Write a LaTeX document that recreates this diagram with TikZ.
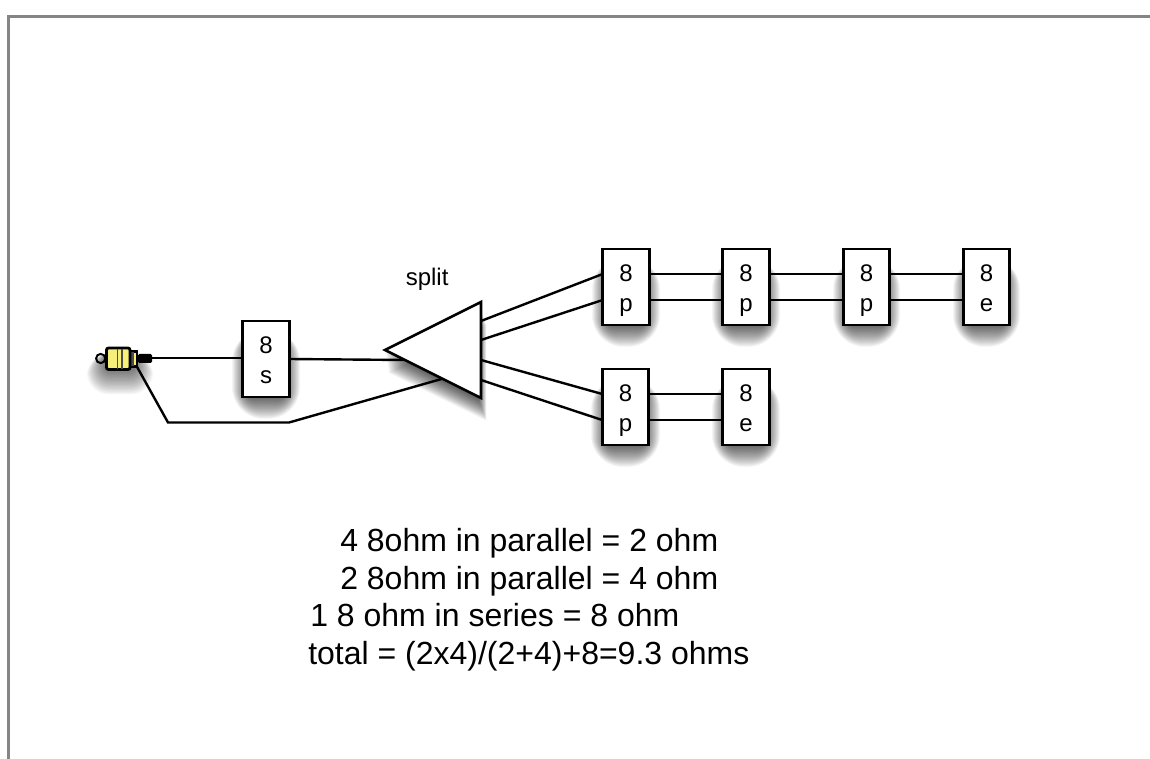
\documentclass[tikz,border=0pt]{standalone}
\usepackage{fontspec}
\setmainfont{Liberation Sans}
\usetikzlibrary{shapes.geometric}
\definecolor{plugyellow}{HTML}{F6F07A}
\definecolor{framegray}{HTML}{858585}
\tikzset{
  unitbox/.style={draw=black,line width=2.2pt,fill=white,minimum width=35pt,minimum height=57pt,inner sep=0pt,outer sep=0pt,align=center,font=\fontsize{18}{22.5}\selectfont},
  wire/.style={draw=black,line width=1.8pt,line join=miter},
  note/.style={anchor=base west,inner sep=0pt,font=\fontsize{24}{28}\selectfont},
  softlayer/.style={fill=black,fill opacity=0.036,draw=none}
}
\newcommand{\softrect}[4]{% x0 y0 x1 y1 (px), shadow below
  \foreach \g in {1,...,24}{
    \fill[softlayer,rounded corners=\g pt] (#1+8-\g*0.75,-#2-24+\g*0.6) rectangle (#3-8+\g*0.75,-#4+3-\g*1.0);
  }
}
\newcommand{\unittext}[1]{\rule{0pt}{17.4pt}8\\#1\vphantom{p}}
\begin{document}
\begin{tikzpicture}[x=0.75pt,y=0.75pt]
\useasboundingbox (0,-759) rectangle (1150,0);
\fill[white] (0,-759) rectangle (1150,0);
% frame
\coordinate (fa) at (8.5,-759);
\coordinate (fb) at (8.5,-16.5);
\coordinate (fc) at (1150,-16.5);
\draw[framegray,line width=2.2pt] (fa) -- (fb) -- (fc);
% shadows
\foreach \g in {1,...,24}{
  \fill[softlayer] (385+\g*0.15,-350-\g*0.95) -- (481+\g*0.35-3,-302-\g*0.95) -- (481+\g*0.35-3,-398-\g*0.95) -- cycle;
  \fill[softlayer,rounded corners=\g*0.7 pt] (112-\g*1.05,-354) rectangle (128+\g*1.05,-362-\g*1.35);
}
\softrect{242}{320}{290}{398}
\softrect{602}{248}{650}{326}
\softrect{722}{248}{770}{326}
\softrect{843}{248}{890}{326}
\softrect{963}{248}{1010}{326}
\softrect{601}{368}{650}{446}
\softrect{722}{368}{770}{446}
% free wire corners and plug
\coordinate (plugtip) at (151,-358);
\coordinate (plugbase) at (136,-365);
\coordinate (k1) at (168,-422.5);
\coordinate (k2) at (289,-422.5);
\coordinate (sin) at (405,-360);
\coordinate (sret) at (445,-378);
% boxes
\node[unitbox] (s) at (266,-359) {\unittext{s}};
\node[unitbox] (a1) at (626,-287) {\unittext{p}};
\node[unitbox] (a2) at (746,-287) {\unittext{p}};
\node[unitbox] (a3) at (866.5,-287) {\unittext{p}};
\node[unitbox] (a4) at (986.5,-287) {\unittext{e}};
\node[unitbox] (b1) at (625.5,-407) {\unittext{p}};
\node[unitbox] (b2) at (746,-407) {\unittext{e}};
% wires under triangle
\draw[wire] (plugtip) -- (s.west |- plugtip);
\draw[wire] (s.east |- 0,-359) -- (sin);
\draw[wire] (plugbase) -- (k1) -- (k2) -- (sret);
\coordinate (t1) at (481,-321);
\coordinate (t2) at (481,-340);
\coordinate (t3) at (481,-360);
\coordinate (t4) at (481,-380);
\foreach \u/\v in {a1/a2,a2/a3,a3/a4,b1/b2}{
  \draw[wire] ([yshift=9.75pt]\u.east) -- ([yshift=9.75pt]\v.west);
  \draw[wire] ([yshift=-9.75pt]\u.east) -- ([yshift=-9.75pt]\v.west);
}
\draw[wire] (t1) -- ([yshift=9.75pt]a1.west);
\draw[wire] (t2) -- ([yshift=-9.75pt]a1.west);
\draw[wire] (t3) -- ([yshift=9.75pt]b1.west);
\draw[wire] (t4) -- ([yshift=-9.75pt]b1.west);
% triangle
\node[isosceles triangle,isosceles triangle stretches,shape border rotate=180,draw=black,fill=white,line width=1.9pt,line join=miter,minimum width=72pt,minimum height=72pt,inner sep=0pt,outer sep=0pt,anchor=apex] (split) at (385,-350) {};
% plug
\draw[black,line width=1.5pt] (100.7,-358.5) circle (4.6);
\fill[black,rounded corners=1pt] (138,-354) rectangle (152,-363);
\draw[black,line width=1.9pt,fill=plugyellow] (130,-351.5) rectangle (137,-366.5);
\fill[black!70] (130,-352) rectangle (133.5,-366);
\draw[black,line width=2.1pt,fill=plugyellow,rounded corners=1.5pt] (106.5,-348) rectangle (130,-369.5);
\fill[black!70] (116.5,-349) rectangle (118,-369);
\fill[black!70] (121,-349) rectangle (123,-369);
% labels
\node[anchor=base west,inner sep=0pt,font=\fontsize{18}{20}\selectfont] (lab) at (405.5,-286) {split};
\node[note] (n1) at (340,-551) {4 8ohm in parallel = 2 ohm};
\node[note] (n2) at (340,-589) {2 8ohm in parallel = 4 ohm};
\node[note] (n3) at (310,-626) {1 8 ohm in series = 8 ohm};
\node[note] (n4) at (308,-664) {total = (2x4)/(2+4)+8=9.3 ohms};
\end{tikzpicture}
\end{document}
